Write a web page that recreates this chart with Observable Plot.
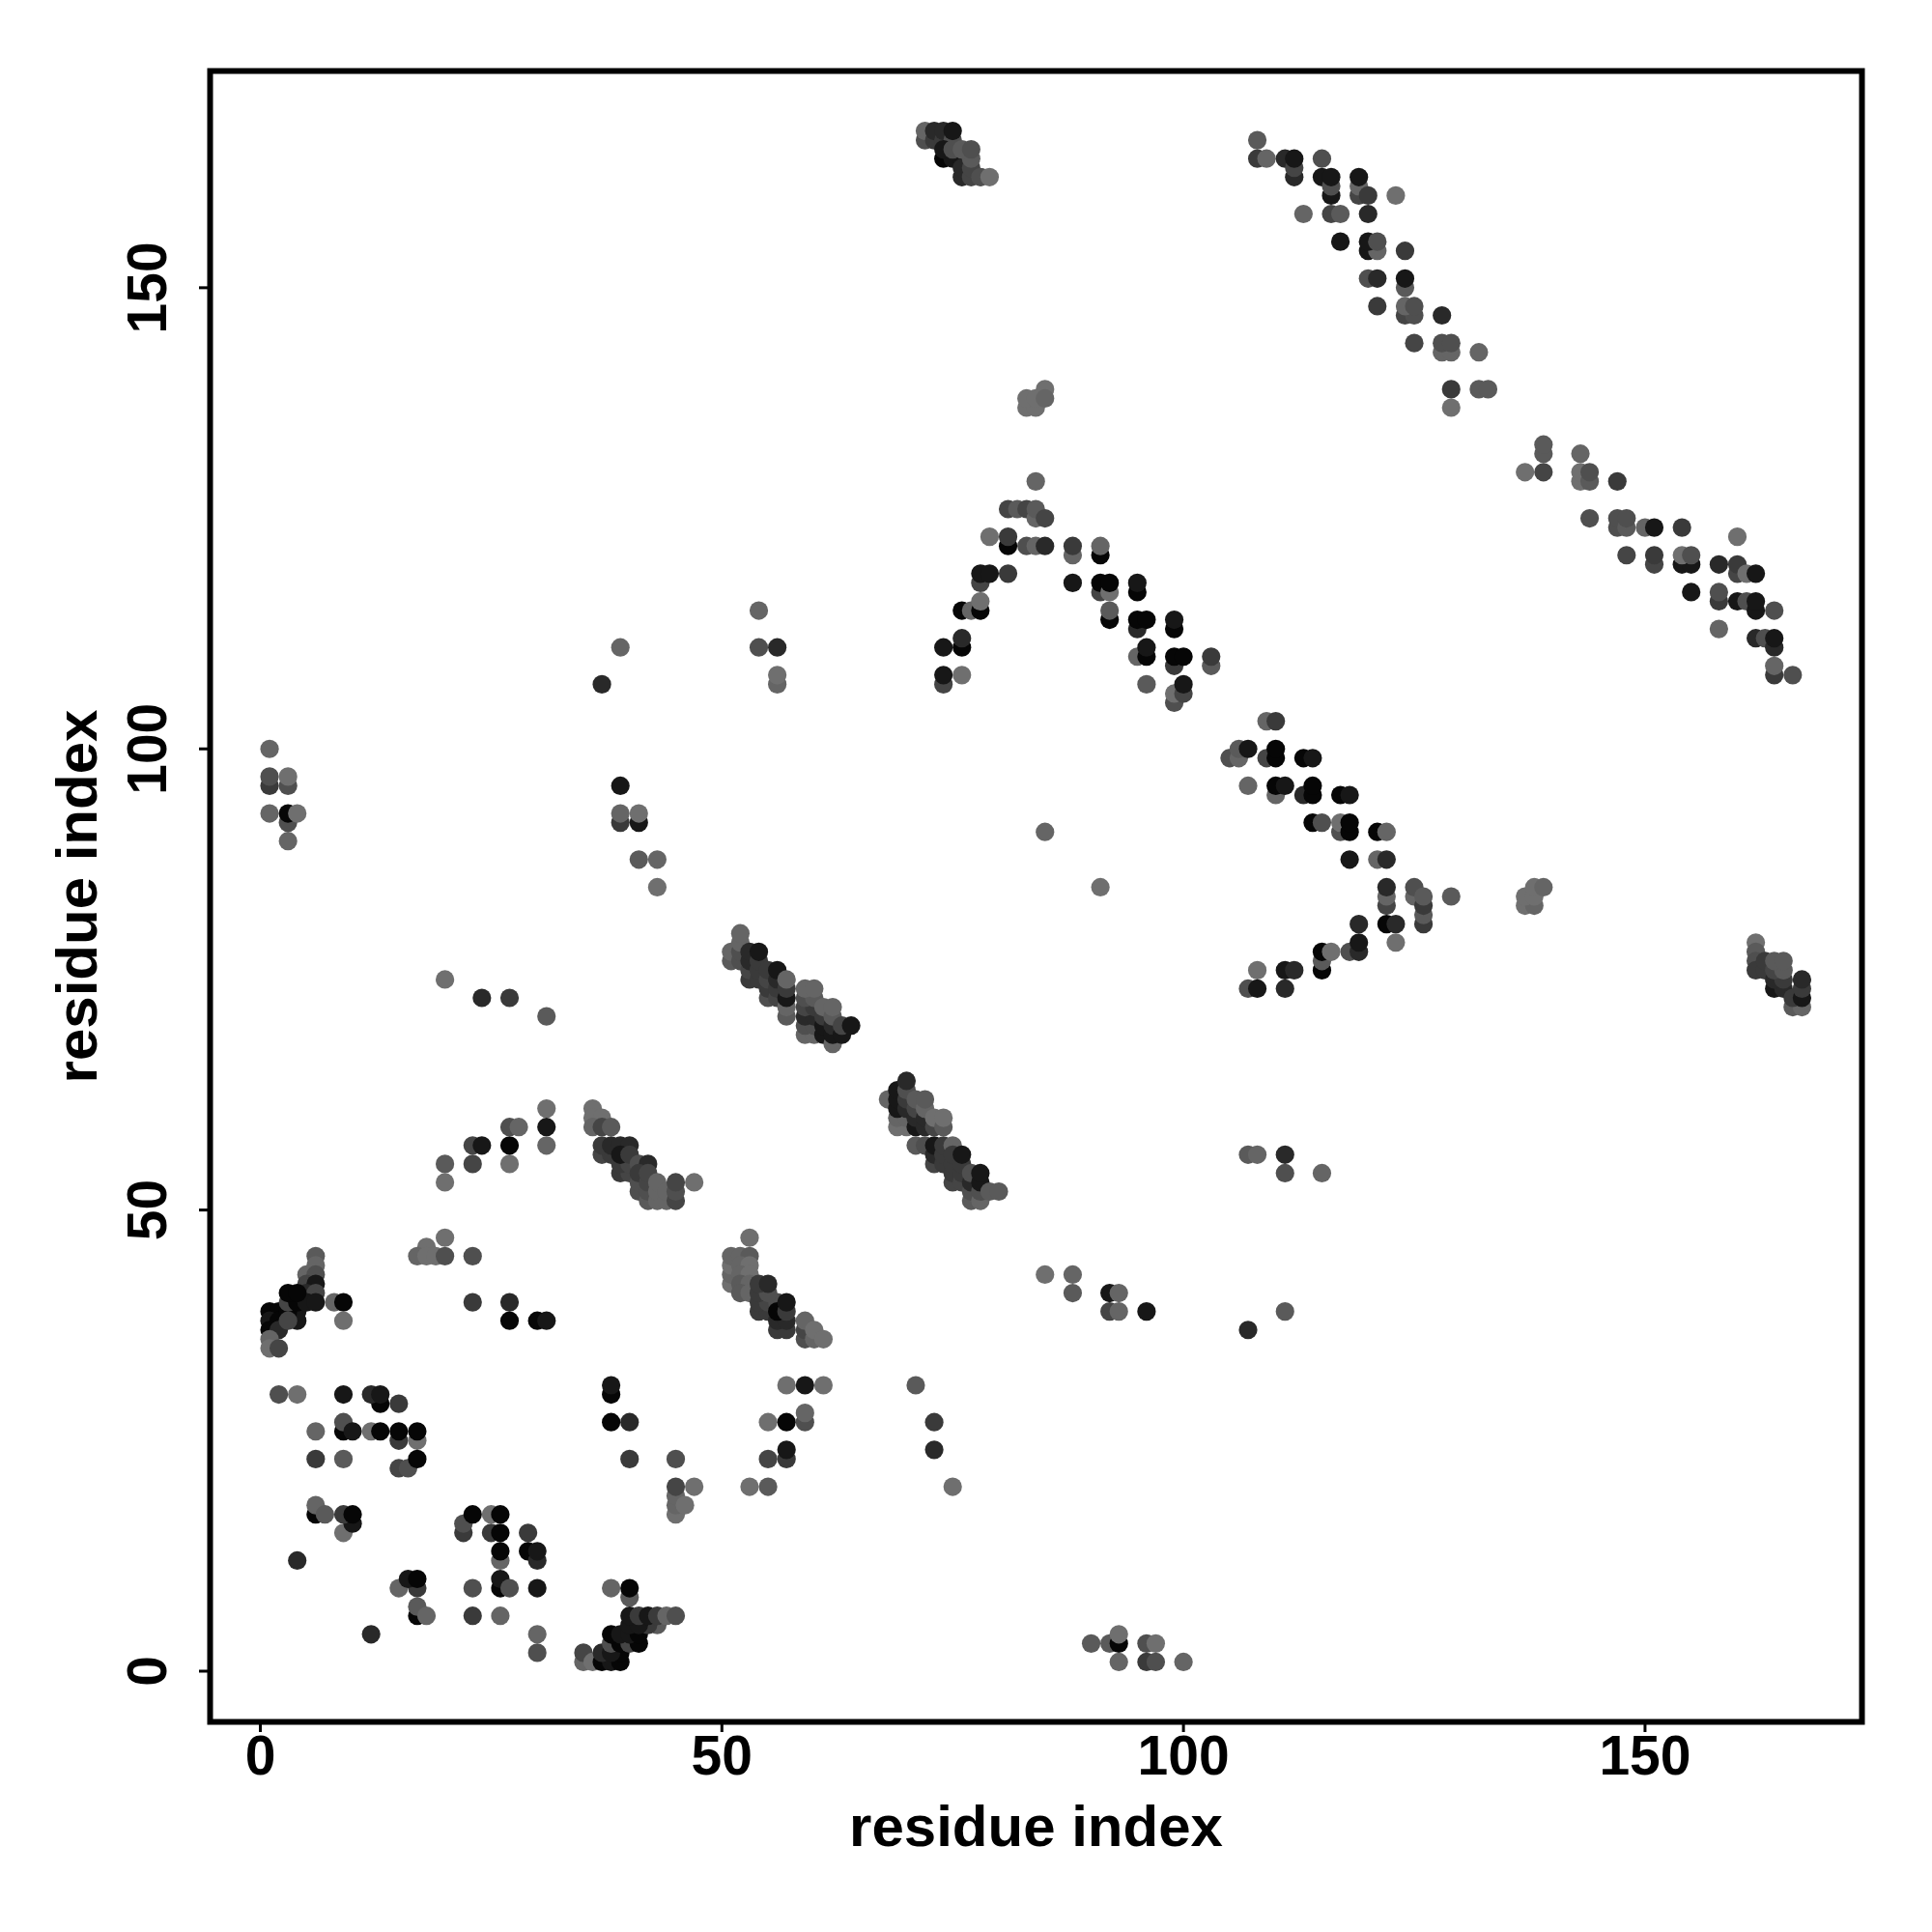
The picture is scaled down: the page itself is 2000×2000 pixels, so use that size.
<!DOCTYPE html>
<html>
<head>
<meta charset="utf-8">
<script src="https://cdn.jsdelivr.net/npm/d3@7"></script>
<script src="https://cdn.jsdelivr.net/npm/@observablehq/plot@0.6"></script>
<style>html,body{margin:0;padding:0;background:#fff}</style>
</head>
<body>
<div id="chart"></div>
<script>
// each contact: [residue x, residue y, shade level 0 (darkest) .. 9 (lightest)]
const lowLeftHelix = [[1,39,0],[2,39,0],[1,38,1],[2,38,0],[1,37,0],[2,37,2],[1,36,7],[1,35,8],[2,35,4],[4,38,1],[4,39,1],[3,39,0],[3,38,4],[6,45,6],[6,44,7],[5,43,7],[6,43,5],[5,42,4],[6,42,1],[5,41,2],[6,41,4],[3,40,4],[4,40,0],[5,40,1],[6,40,1],[3,41,0],[4,41,0],[8,40,7],[9,40,0],[9,38,8]];
const midLeft = [[20,47,8],[18,46,8],[17,45,7],[18,45,8],[19,45,8],[20,45,5],[23,45,5],[23,40,3],[27,40,2],[27,38,0],[30,38,0],[31,38,1]];
const rowThirty = [[2,30,5],[4,30,8],[9,30,1],[13,29,0],[12,30,2],[13,30,1],[15,29,3],[9,26,0],[9,27,5],[10,26,1],[6,26,7],[12,26,8],[13,26,0],[15,25,3],[15,26,0],[17,25,8],[17,26,0],[6,23,3],[9,23,6],[15,22,4],[16,22,5],[17,23,0]];
const rowSeventeen = [[6,17,0],[6,18,7],[7,17,6],[9,15,8],[10,16,1],[9,17,3],[10,17,0],[4,12,2],[22,15,3],[22,16,5],[23,17,0],[25,17,8],[26,17,0],[25,15,3],[26,15,0],[29,15,3],[26,12,7],[26,13,0],[29,13,0],[30,12,2],[30,13,1]];
const rowNine = [[15,9,7],[17,9,3],[16,10,1],[17,10,0],[23,9,5],[26,9,0],[26,10,1],[27,9,5],[30,9,1],[17,6,0],[17,7,6],[18,6,7],[23,6,3],[26,6,7],[12,4,2],[30,4,7],[30,2,5],[38,9,7],[40,8,6],[40,9,0]];
const cornerOne = [[35,1,7],[35,2,4],[36,1,8],[37,1,0],[38,1,1],[39,1,0],[37,2,2],[39,2,0],[38,2,1],[38,3,5],[39,3,0],[40,3,4],[41,3,0],[38,4,0],[39,4,1],[40,4,1],[41,4,0],[43,5,6],[42,5,3],[40,5,1],[41,5,1],[40,6,1],[41,6,3],[42,6,1],[43,6,3],[44,6,7],[45,6,5]];
const lowMiddle = [[38,30,0],[38,31,1],[38,27,0],[40,27,2],[40,23,3],[45,23,5],[45,17,8],[45,18,7],[45,19,7],[46,18,8],[45,20,4],[47,20,8],[53,20,8],[55,20,6],[55,23,4],[57,23,3],[57,24,1],[55,27,8],[57,27,0],[59,27,5],[59,28,7],[57,31,8],[59,31,1],[61,31,8],[71,31,6],[73,27,3],[73,24,2],[75,20,8]];
const helixFifty = [[51,42,8],[51,43,7],[51,44,8],[51,45,7],[52,45,7],[53,47,8],[53,45,6],[52,44,7],[53,44,8],[52,43,7],[53,43,8],[52,42,6],[53,42,7],[52,41,6],[53,41,7],[54,39,3],[55,39,3],[54,40,3],[55,40,4],[56,40,5],[54,41,3],[55,41,5],[54,42,3],[55,42,2],[56,37,3],[57,37,3],[56,38,2],[57,38,2],[56,39,0],[57,39,3],[57,40,1],[59,36,5],[59,37,4],[59,38,7],[60,36,7],[60,37,8],[61,36,8]];
const farLow = [[85,43,8],[88,41,6],[88,43,7],[92,39,4],[92,41,1],[93,39,7],[93,41,7],[96,39,1],[107,37,2],[107,56,6],[108,56,7],[111,56,2],[111,54,5],[115,54,7],[111,39,6],[90,3,6],[92,3,6],[93,3,0],[93,4,8],[93,1,7],[96,1,3],[97,1,5],[96,3,5],[97,3,8],[100,1,7]];
const upperLeftDots = [[1,100,7],[1,96,3],[1,97,5],[3,96,5],[3,97,8],[1,93,7],[3,90,7],[3,92,5],[3,93,0],[4,93,8],[39,96,1],[39,92,3],[39,93,7],[41,92,1],[41,93,8],[41,88,6],[43,88,7],[43,85,8],[20,75,8],[24,73,2],[27,73,3],[31,71,6],[37,107,2],[39,111,7],[54,115,7],[54,111,5],[56,111,2],[56,107,7],[56,108,8]];
const arcFiftyFive = [[31,61,8],[31,59,1],[31,57,7],[27,59,5],[28,59,7],[27,55,8],[27,57,0],[23,57,4],[24,57,1],[23,55,4],[20,55,6],[20,53,8]];
const helixFiftyFive = [[36,61,8],[36,60,8],[37,60,8],[36,59,7],[37,59,4],[38,59,6],[37,56,4],[38,56,3],[37,57,3],[38,57,2],[39,57,2],[40,57,2],[39,54,3],[40,54,4],[39,55,3],[40,55,4],[39,56,1],[40,56,3],[41,55,5],[42,55,2],[41,52,5],[42,51,6],[41,53,5],[41,54,3],[42,52,5],[42,53,4],[42,54,4],[43,51,7],[43,52,7],[43,53,7],[44,51,7],[44,52,7],[45,51,4],[45,52,5],[45,53,4],[47,53,8]];
const helixSeventy = [[51,77,6],[51,78,7],[52,77,5],[52,78,5],[52,79,7],[52,80,7],[53,75,3],[53,76,4],[53,77,2],[53,78,2],[54,75,3],[54,76,3],[54,77,3],[54,78,1],[55,73,5],[55,74,3],[55,75,4],[55,76,3],[56,73,4],[56,74,3],[56,75,2],[56,76,1],[57,71,6],[57,72,7],[57,73,1],[57,74,3],[57,75,7],[59,69,7],[60,69,7],[59,70,5],[60,70,5],[59,71,2],[60,71,2],[59,72,4],[60,72,3],[59,73,5],[60,73,6],[59,74,7],[60,74,7],[61,69,1],[61,70,1],[61,71,3],[61,72,7],[62,68,7],[62,69,1],[62,70,2],[62,71,6],[62,72,7],[63,69,1],[63,70,4],[64,70,1]];
const helixSixtyTwo = [[68,62,7],[69,59,8],[70,59,8],[69,60,7],[70,60,7],[69,61,1],[69,62,1],[69,63,1],[70,61,2],[70,62,3],[70,63,5],[70,64,2],[71,59,1],[71,60,2],[71,61,4],[71,62,6],[72,59,2],[72,60,2],[72,61,7],[72,62,6],[73,59,4],[73,60,8],[74,59,6],[74,60,8]];
const helixFiftyThree = [[71,57,6],[72,57,5],[73,55,4],[73,56,2],[73,57,1],[74,55,3],[74,56,3],[74,57,3],[75,57,7],[75,53,4],[75,54,3],[75,55,3],[75,56,3],[76,53,4],[76,54,3],[76,55,3],[76,56,1],[77,51,6],[77,52,5],[77,53,2],[77,54,5],[78,51,7],[78,52,5],[78,53,1],[78,54,1],[79,52,6],[80,52,6]];
const rightBlock = [[162,79,8],[162,78,6],[162,77,5],[162,76,3],[163,76,3],[163,77,3],[164,74,1],[165,74,2],[164,75,2],[165,75,3],[164,76,4],[165,76,6],[164,77,6],[165,77,6],[166,72,6],[167,72,7],[166,73,3],[167,73,1],[167,74,3],[167,75,2]];
const topBlock = [[72,166,5],[72,167,7],[73,166,3],[73,167,2],[74,166,3],[74,167,2],[75,166,5],[75,167,1],[74,164,0],[75,164,1],[76,164,1],[74,165,1],[75,165,5],[76,162,2],[76,163,2],[77,162,4],[77,163,4],[77,164,6],[76,165,6],[77,165,5],[78,162,5],[79,162,8]];
const cluster139 = [[85,139,8],[83,137,8],[84,137,8],[83,138,8],[84,138,8],[85,138,7],[84,129,7],[85,91,7],[91,85,8]];
const archTop = [[81,126,4],[82,126,6],[83,126,4],[84,125,7],[84,126,6],[85,125,4],[79,123,8],[81,122,0],[81,123,3],[83,122,5],[84,122,7],[85,122,2],[88,121,7],[88,122,3],[91,121,0],[91,122,7],[78,118,4],[78,119,1],[79,119,1],[81,119,3],[88,118,1],[91,117,4],[91,118,0],[92,117,8],[92,118,0],[95,117,0],[95,118,1],[76,115,0],[77,115,7],[78,115,0],[78,116,8],[92,114,0],[92,115,6],[95,113,2],[95,114,0],[96,114,0],[99,113,0],[99,114,1],[76,111,0],[76,112,2],[74,111,1],[95,110,7],[96,110,0],[96,111,1],[99,109,3],[99,110,0],[100,110,0],[103,109,6],[103,110,3],[74,107,4],[74,108,1],[76,108,8],[96,107,6],[99,105,5],[99,106,8],[100,106,4],[100,107,1]];
const middleBand = [[109,103,7],[110,103,3],[105,99,5],[106,99,7],[106,100,6],[107,100,1],[109,99,4],[110,99,0],[110,100,0],[113,99,0],[114,99,1],[107,96,7],[110,95,7],[110,96,0],[111,96,1],[113,95,2],[114,95,0],[114,96,0],[117,95,0],[118,95,1],[114,92,0],[115,92,5],[117,91,5],[117,92,8],[118,91,0],[118,92,0],[121,91,0],[122,91,7],[118,88,1],[121,88,7],[122,88,2]];
const chevron = [[125,84,7],[125,85,5],[122,83,4],[122,84,7],[122,85,2],[126,81,3],[126,82,6],[126,83,3],[126,84,6],[129,84,6],[119,81,2],[122,81,0],[123,81,2],[123,79,8],[118,78,5],[119,78,2],[119,79,1],[115,76,0],[115,77,6],[115,78,0],[116,78,8],[108,76,8],[111,76,1],[112,76,2],[107,74,5],[108,74,1],[111,74,2],[137,83,8],[138,83,7],[137,84,8],[138,84,8],[138,85,8],[139,85,7]];
const upperDiagonal = [[108,166,6],[108,164,3],[109,164,7],[111,164,2],[112,162,2],[112,163,4],[112,164,1],[115,164,5],[113,158,7],[115,162,1],[116,160,1],[116,161,5],[116,162,1],[119,160,4],[119,161,7],[119,162,1],[120,160,3],[123,160,8],[116,158,4],[117,158,6],[120,158,2],[117,155,1],[120,154,1],[121,154,7],[120,155,1],[121,155,5],[124,154,3],[120,151,5],[121,151,2],[124,150,6],[124,151,1],[121,148,3],[124,147,4],[125,147,5],[124,148,7],[125,148,5],[128,147,2],[125,144,4],[128,143,7],[129,143,7],[128,144,5],[129,144,5],[132,143,7],[129,137,8],[129,139,3],[132,139,6],[133,139,6]];
const lowerDiagonal = [[139,132,6],[139,133,6],[143,132,7],[137,130,8],[139,130,4],[143,129,8],[143,130,8],[144,129,6],[144,130,5],[147,129,3],[144,125,5],[147,124,5],[147,125,5],[148,124,6],[148,125,5],[150,124,7],[151,124,1],[154,124,3],[148,121,4],[151,120,4],[151,121,3],[154,120,1],[155,120,1],[154,121,8],[155,121,5],[158,120,2],[160,119,4],[160,120,3],[160,123,8],[161,119,8],[162,119,1],[155,117,1],[158,116,3],[158,117,5],[158,113,7],[160,116,1],[161,116,5],[162,115,1],[162,116,1],[164,115,5],[162,112,2],[163,112,5],[164,111,2],[164,112,1],[164,108,3],[164,109,7],[166,108,5]];

const contacts = [lowLeftHelix, midLeft, rowThirty, rowSeventeen, rowNine, cornerOne, lowMiddle, helixFifty, farLow, upperLeftDots, arcFiftyFive, helixFiftyFive, helixSeventy, helixSixtyTwo, helixFiftyThree, rightBlock, topBlock, cluster139, archTop, middleBand, chevron, upperDiagonal, lowerDiagonal]
  .flat().map(([x, y, shade]) => ({x, y, shade}));

const axisTicks = [0, 50, 100, 150];
const axisTitle = "residue index";

const chart = Plot.plot({
  width: 2000, height: 2000,
  marginLeft: 217, marginRight: 73, marginTop: 73, marginBottom: 218,
  style: {background: "#fff", fontFamily: "'Liberation Sans', Arial, sans-serif", fontWeight: "bold"},
  x: {domain: [-5.44, 173.5]},
  y: {domain: [-5.5, 173.5]},
  color: {type: "linear", domain: [0, 3, 9], range: ["#060606", "#3a3a3a", "#7a7a7a"]},
  marks: [
    Plot.dot(contacts, {x: "x", y: "y", fill: "shade", r: 9.6}),
    Plot.frame({stroke: "#000", strokeWidth: 6}),
    Plot.axisX({ticks: axisTicks, tickSize: 11, tickPadding: 3, strokeWidth: 3, fontSize: 57, label: null, tickFormat: d => String(d)}),
    Plot.axisX({ticks: [], tickSize: 0, fontSize: 60, label: axisTitle, labelAnchor: "center", labelArrow: "none", labelOffset: 128}),
    Plot.axisY({ticks: axisTicks, tickSize: 11, tickPadding: 35, strokeWidth: 3, fontSize: 57, tickRotate: -90, label: null, tickFormat: d => String(d)}),
    Plot.axisY({ticks: [], tickSize: 0, fontSize: 60, label: axisTitle, labelAnchor: "center", labelArrow: "none", labelOffset: 160})
  ]
});
document.getElementById("chart").appendChild(chart);
</script>
</body>
</html>
